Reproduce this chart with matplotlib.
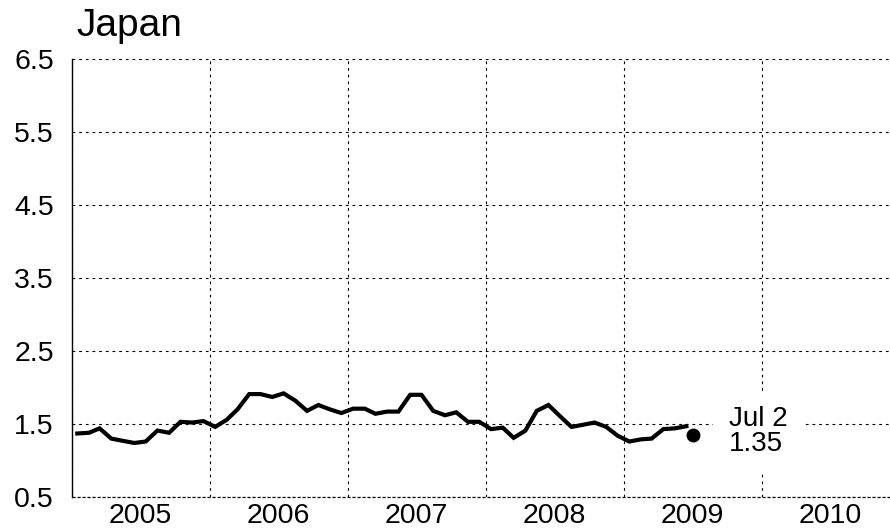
import matplotlib
matplotlib.use("Agg")
import matplotlib.pyplot as plt
import matplotlib.dates as mdates
import pandas as pd

plt.rcParams['font.family'] = ['Liberation Sans', 'DejaVu Sans']

# monthly values, Jan 2005 - Jun 2009
values = [1.37, 1.38, 1.44, 1.30, 1.27, 1.24, 1.26, 1.41, 1.38, 1.53, 1.52, 1.54,
          1.46, 1.56, 1.70, 1.91, 1.91, 1.87, 1.92, 1.82, 1.68, 1.76, 1.70, 1.65,
          1.71, 1.71, 1.64, 1.67, 1.67, 1.90, 1.90, 1.68, 1.62, 1.66, 1.53, 1.53,
          1.43, 1.45, 1.31, 1.41, 1.68, 1.76, 1.61, 1.46, 1.49, 1.52, 1.46, 1.34,
          1.26, 1.29, 1.30, 1.43, 1.44, 1.47]
months = pd.date_range("2005-01-01", periods=len(values), freq="MS") + pd.Timedelta(days=14)

last_date = pd.Timestamp("2009-07-02")
last_value = 1.35
last_label = "Jul 2\n1.35"

year_labels = [2005, 2006, 2007, 2008, 2009, 2010]
y_ticks = [0.5, 1.5, 2.5, 3.5, 4.5, 5.5, 6.5]

fig = plt.figure(figsize=(8.9, 5.32), dpi=100)
ax = fig.add_axes([0.0809, 0.0658, 0.9191, 0.8232])

ax.plot(months, values, color="black", lw=3.0, solid_joinstyle="miter")
ax.plot([last_date], [last_value], "o", color="black", ms=9)
ax.text(last_date + pd.Timedelta(days=95), last_value + 0.05, last_label,
        fontsize=20, va="center", ha="left", linespacing=0.95,
        bbox=dict(facecolor="white", edgecolor="none", pad=11))

ax.set_xlim(pd.Timestamp("2005-01-01"), pd.Timestamp("2010-12-06"))
ax.set_ylim(0.5, 6.5)
ax.set_yticks(y_ticks)
ax.set_yticklabels([f"{t:.1f}" for t in y_ticks])

ax.xaxis.set_major_locator(mdates.YearLocator())
ax.xaxis.set_major_formatter(plt.NullFormatter())
ax.set_xticks([pd.Timestamp(f"{y}-07-01") for y in year_labels], minor=True)
ax.set_xticklabels([str(y) for y in year_labels], minor=True)

ax.tick_params(axis="both", which="both", length=0, labelsize=20.5)
ax.tick_params(axis="y", pad=13)
ax.tick_params(axis="x", which="minor", pad=4)

ax.grid(True, which="major", color="black", lw=0.8, linestyle=(0, (2.5, 3.5)))
for s in ["top", "right", "bottom"]:
    ax.spines[s].set_visible(False)
ax.spines["left"].set_linewidth(1.0)
ax.axhline(0.5, color="black", lw=0.9, linestyle=(0, (2.5, 1.5)), clip_on=False)

fig.text(0.0855, 0.985, "Japan", fontsize=28, ha="left", va="top")

fig.savefig("out.png", dpi=100)
